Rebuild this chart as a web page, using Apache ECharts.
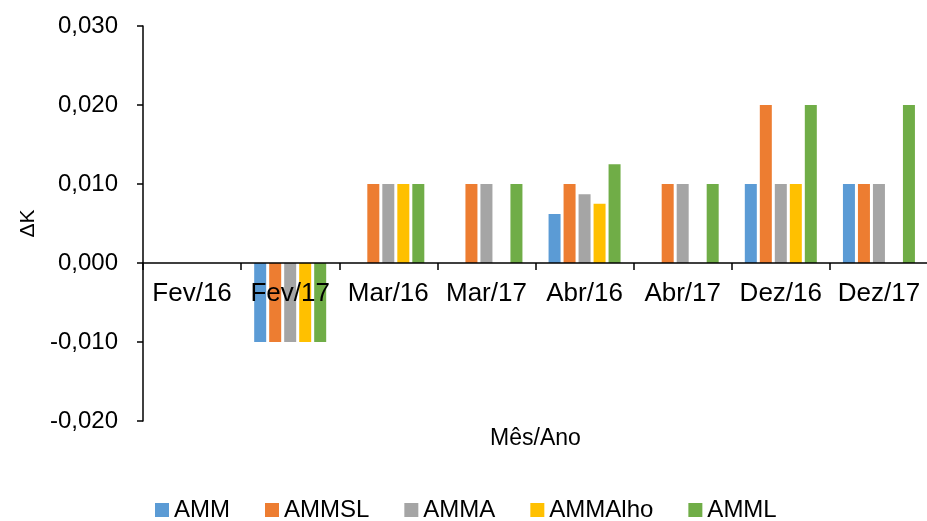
<!DOCTYPE html>
<html>
<head>
<meta charset="utf-8">
<title>ΔK por mês/ano</title>
<script src="https://cdn.jsdelivr.net/npm/echarts@6/dist/echarts.min.js"></script>
<style>
  html, body { margin: 0; padding: 0; background: #ffffff; }
  #chart { width: 927px; height: 521px; }
</style>
</head>
<body>
<div id="chart"></div>
<script>
// Categories (month/year)
const categories = ['Fev/16', 'Fev/17', 'Mar/16', 'Mar/17', 'Abr/16', 'Abr/17', 'Dez/16', 'Dez/17'];

// ΔK values per series
const amm     = [0, -0.010, 0,     0,     0.0062, 0,     0.010, 0.010];
const ammsl   = [0, -0.010, 0.010, 0.010, 0.010,  0.010, 0.020, 0.010];
const amma    = [0, -0.010, 0.010, 0.010, 0.0087, 0.010, 0.010, 0.010];
const ammalho = [0, -0.010, 0.010, 0,     0.0075, 0,     0.010, 0];
const amml    = [0, -0.010, 0.010, 0.010, 0.0125, 0.010, 0.020, 0.020];

const seriesNames = ['AMM', 'AMMSL', 'AMMA', 'AMMAlho', 'AMML'];
const seriesColors = ['#5B9BD5', '#ED7D31', '#A5A5A5', '#FFC000', '#70AD47'];
const seriesValues = [amm, ammsl, amma, ammalho, amml];

// Value axis range and step
const yMin = -0.02;
const yMax = 0.03;
const yStep = 0.01;

const fmtTick = v => v.toFixed(3).replace('.', ',');

const FONT = '"Liberation Sans", Arial, sans-serif';

// Plot area
const GRID = { left: 143, right: -1, top: 26, bottom: 100 };
const CHART_H = 521;
const plotH = CHART_H - GRID.top - GRID.bottom;
// Lift the category axis (line, ticks, labels) up to the value 0
const zeroOffset = -plotH * (0 - yMin) / (yMax - yMin);

const chart = echarts.init(document.getElementById('chart'), null, { renderer: 'canvas' });

chart.setOption({
  backgroundColor: '#ffffff',
  animation: false,
  grid: Object.assign({ containLabel: false, outerBoundsMode: 'none' }, GRID),
  legend: {
    data: seriesNames,
    left: 150,
    top: 493,
    itemWidth: 14,
    itemHeight: 14,
    itemGap: 35,
    icon: 'rect',
    textStyle: { fontFamily: FONT, fontSize: 24, color: '#000000' }
  },
  xAxis: {
    type: 'category',
    data: categories,
    position: 'bottom',
    offset: zeroOffset,
    z: 10,
    axisLine: { onZero: false, lineStyle: { color: '#000000', width: 1.5 } },
    axisTick: { show: true, length: 7, alignWithLabel: false, lineStyle: { color: '#000000', width: 1.5 } },
    axisLabel: { interval: 0, margin: 18, fontFamily: FONT, fontSize: 26, color: '#000000' },
    splitLine: { show: false },
    name: 'Mês/Ano',
    nameLocation: 'middle',
    nameGap: 164,
    nameTextStyle: { fontFamily: FONT, fontSize: 23, color: '#000000' }
  },
  yAxis: {
    type: 'value',
    min: yMin,
    max: yMax,
    interval: yStep,
    axisLine: { show: true, lineStyle: { color: '#000000', width: 1.5 } },
    axisTick: { show: true, length: 6, lineStyle: { color: '#000000', width: 1.5 } },
    axisLabel: { margin: 25, fontFamily: FONT, fontSize: 24, color: '#000000', formatter: fmtTick },
    splitLine: { show: false },
    name: 'ΔK',
    nameLocation: 'middle',
    nameGap: 104,
    nameTextStyle: { fontFamily: FONT, fontSize: 21, color: '#000000' }
  },
  series: seriesNames.map((name, i) => ({
    name: name,
    type: 'bar',
    data: seriesValues[i],
    barWidth: 12,
    barGap: '25%',
    itemStyle: { color: seriesColors[i] }
  }))
});
</script>
</body>
</html>
